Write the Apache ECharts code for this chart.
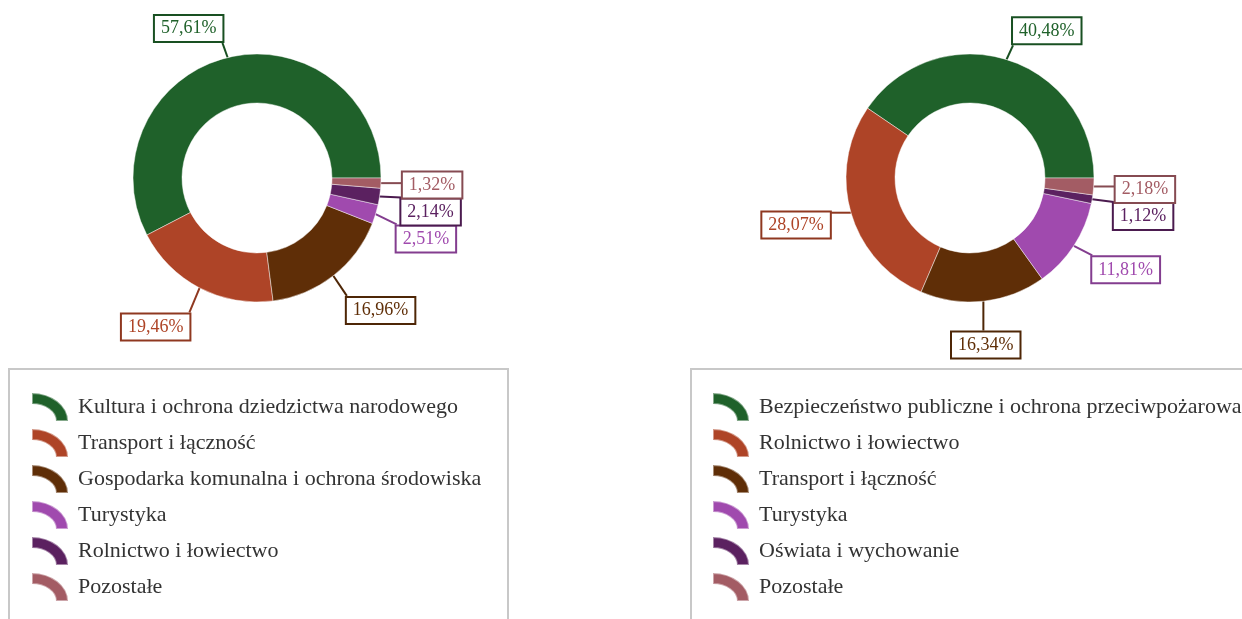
<!DOCTYPE html>
<html>
<head>
<meta charset="utf-8">
<script src="https://cdn.jsdelivr.net/npm/echarts@6/dist/echarts.min.js"></script>
<style>
  html, body { margin: 0; padding: 0; background: #fff; }
  #chart { width: 1242px; height: 619px; }
</style>
</head>
<body>
<div id="chart"></div>
<script>
// Struktura wydatków — dwa zestawienia (w %)
const leftNames = [
  'Kultura i ochrona dziedzictwa narodowego',
  'Transport i łączność',
  'Gospodarka komunalna i ochrona środowiska',
  'Turystyka',
  'Rolnictwo i łowiectwo',
  'Pozostałe'
];
const leftValues = [57.61, 19.46, 16.96, 2.51, 2.14, 1.32];

const rightNames = [
  'Bezpieczeństwo publiczne i ochrona przeciwpożarowa',
  'Rolnictwo i łowiectwo',
  'Transport i łączność',
  'Turystyka',
  'Oświata i wychowanie',
  'Pozostałe'
];
const rightValues = [40.48, 28.07, 16.34, 11.81, 1.12, 2.18];

// kolory kolejnych pozycji (wspólne dla obu wykresów)
const palette = ['#1f612a', '#ae4427', '#5f2e07', '#a04aae', '#5b2160', '#a35c64'];

const FONT = '"Liberation Serif", "Times New Roman", serif';
// ikona legendy: ćwiartka pierścienia
const arcIcon = 'path://M0,0 A36,28 0 0 1 36,28 L24,28 A24,17 0 0 0 0,11 Z';

const CENTERS = [[257, 178], [970, 178]];
const RADII = [75, 124];
const DIST_X = 22;     // odsunięcie etykiety od łuku w poziomie
const DIST_Y = 30;     // odsunięcie etykiety od łuku w pionie
const LABEL_H = 28;    // wysokość ramki etykiety
const LABEL_STEP = 27; // minimalny odstęp środków sąsiednich etykiet

const fmt = v => v.toFixed(2).replace('.', ',') + '%';

// ciemniejszy odcień koloru (ramki i linie etykiet)
function shade(hex, k) {
  const n = parseInt(hex.slice(1), 16);
  const r = Math.round(((n >> 16) & 255) * k);
  const g = Math.round(((n >> 8) & 255) * k);
  const b = Math.round((n & 255) * k);
  return 'rgb(' + r + ',' + g + ',' + b + ')';
}

// pozycje etykiet: za końcem promienia środka wycinka (start 0°, przeciwnie do wskazówek),
// etykiety po tej samej stronie rozsuwane w dół, gdy na siebie nachodzą
function labelSpots(values, center) {
  const total = values.reduce((a, b) => a + b, 0);
  const R = RADII[1];
  let cum = 0;
  const spots = values.map(v => {
    const mid = (cum + v / 2) / total * 2 * Math.PI;
    cum += v;
    const dx = Math.cos(mid), dy = -Math.sin(mid);
    const side = Math.abs(dx) > 0.2 ? (dx > 0 ? 'left' : 'right') : 'center';
    return {
      ax: center[0] + R * dx,
      ay: center[1] + R * dy,
      x: center[0] + (R + DIST_X) * dx,
      y: center[1] + (R + DIST_Y) * dy + Math.max(0, dy) * LABEL_H / 2,
      align: side
    };
  });
  ['left', 'right', 'center'].forEach(side => {
    const group = spots.filter(s => s.align === side).sort((a, b) => a.y - b.y);
    for (let i = 1; i < group.length; i++) {
      if (group[i].y - group[i - 1].y < LABEL_STEP) group[i].y = group[i - 1].y + LABEL_STEP;
    }
  });
  return spots;
}

const SPOTS = [labelSpots(leftValues, CENTERS[0]), labelSpots(rightValues, CENTERS[1])];

// linia od łuku do najbliższego punktu ramki etykiety
function placeLabel(params) {
  const s = SPOTS[params.seriesIndex][params.dataIndex];
  const w = params.labelRect.width, h = params.labelRect.height;
  const x0 = s.align === 'left' ? s.x : s.align === 'right' ? s.x - w : s.x - w / 2;
  const y0 = s.y - h / 2;
  const nx = Math.min(Math.max(s.ax, x0), x0 + w);
  const ny = Math.min(Math.max(s.ay, y0), y0 + h);
  return {
    x: s.x, y: s.y, align: s.align, verticalAlign: 'middle',
    labelLinePoints: [[s.ax, s.ay], [s.ax, s.ay], [nx, ny]]
  };
}

function pieSeries(names, values, center) {
  return {
    type: 'pie',
    center: center,
    radius: RADII,
    startAngle: 0,
    clockwise: false,
    avoidLabelOverlap: false,
    animation: false,
    itemStyle: { borderColor: 'rgba(255,255,255,0.45)', borderWidth: 1 },
    label: {
      show: true,
      position: 'outside',
      fontFamily: FONT,
      fontSize: 18,
      lineHeight: 20,
      backgroundColor: '#fff',
      borderWidth: 2,
      padding: [3, 6, 2, 6],
      formatter: p => fmt(p.value)
    },
    labelLine: { show: true, length: 20, length2: 0, lineStyle: { width: 2 } },
    labelLayout: placeLabel,
    emphasis: { disabled: true },
    data: names.map((n, i) => ({
      name: n,
      value: values[i],
      itemStyle: { color: palette[i] },
      label: { color: palette[i], borderColor: shade(palette[i], 0.82) },
      labelLine: { lineStyle: { color: shade(palette[i], 0.82), width: 2 } }
    }))
  };
}

function legendFor(names, left) {
  return {
    orient: 'vertical',
    left: left,
    top: 392,
    padding: 0,
    icon: arcIcon,
    itemWidth: 36,
    itemHeight: 28,
    itemGap: 6,
    selectedMode: false,
    textStyle: { fontFamily: FONT, fontSize: 22, lineHeight: 28, color: '#333', padding: [0, 0, 0, 5] },
    data: names.map((n, i) => ({ name: n, itemStyle: { color: palette[i] } }))
  };
}

const chart = echarts.init(document.getElementById('chart'), null, { renderer: 'canvas' });
chart.setOption({
  backgroundColor: '#fff',
  graphic: [
    { type: 'rect', shape: { x: 9, y: 369, width: 499, height: 270 }, style: { fill: 'none', stroke: '#c8c8c8', lineWidth: 2 }, silent: true },
    { type: 'rect', shape: { x: 691, y: 369, width: 600, height: 270 }, style: { fill: 'none', stroke: '#c8c8c8', lineWidth: 2 }, silent: true }
  ],
  legend: [legendFor(leftNames, 31), legendFor(rightNames, 712)],
  series: [
    pieSeries(leftNames, leftValues, CENTERS[0]),
    pieSeries(rightNames, rightValues, CENTERS[1])
  ]
});
</script>
</body>
</html>
